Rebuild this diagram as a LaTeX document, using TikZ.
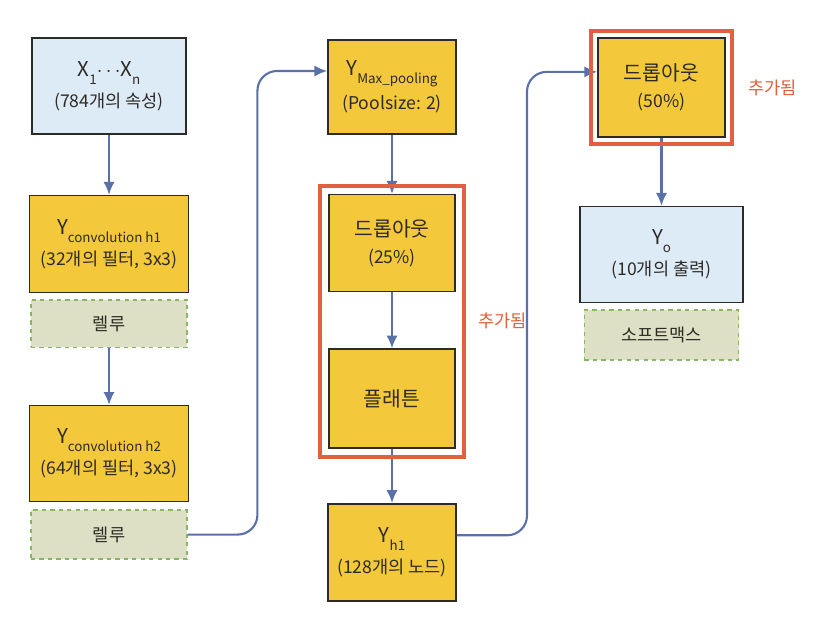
\documentclass[tikz,border=0pt]{standalone}
\usepackage{fontspec}
\setmainfont{Noto Sans CJK KR}
\usetikzlibrary{arrows.meta,positioning,calc,fit}
\definecolor{cngold}{HTML}{F3C83A}
\definecolor{cnblue}{HTML}{DDEBF7}
\definecolor{cnsage}{HTML}{DDE0C4}
\definecolor{cngreen}{HTML}{86B864}
\definecolor{cnred}{HTML}{E0603F}
\definecolor{cnarrow}{HTML}{5A70A8}
\definecolor{cnink}{HTML}{2E2A25}
\newcommand{\lowsub}[1]{\raisebox{-0.7ex}{\fontsize{9.5}{11}\selectfont #1}}
\newcommand{\maintxt}{\fontsize{14.5}{17}\selectfont}
\newcommand{\subtxt}{\fontsize{12.5}{15}\selectfont}

\begin{document}
\begin{tikzpicture}[x=0.025cm,y=-0.025cm,
    box/.style={draw=cnink,line width=1.1pt,inner sep=0pt,align=center,text=cnink,font=\maintxt},
    layer/.style={box,fill=cngold},
    io/.style={box,fill=cnblue},
    act/.style={draw=cngreen,fill=cnsage,dashed,line width=0.9pt,inner sep=0pt,align=center,font=\subtxt,text=cnink},
    added/.style={draw=cnred,line width=2.6pt,inner sep=0.2cm},
    note/.style={text=cnred,font=\subtxt},
    arr/.style={-{Latex[length=3.2mm,width=2.8mm]},line width=1.5pt,draw=cnarrow}]
  \useasboundingbox (0,0) rectangle (813,635);

  % first column
  \node[io,minimum width=3.85cm,minimum height=2.4cm] (xin) at (109,86)
    {X\lowsub{1}$\cdots$X\lowsub{n}\\[5pt]{\subtxt (784개의 속성)}};
  \node[layer,minimum width=3.975cm,minimum height=2.425cm,below=1.5cm of xin] (conv1)
    {Y\lowsub{convolution h1}\\[5pt]{\subtxt (32개의 필터, 3x3)}};
  \node[act,minimum width=3.9cm,minimum height=1.18cm,below=0.15cm of conv1] (relu1) {렐루};
  \node[layer,minimum width=3.975cm,minimum height=2.4cm,below=1.425cm of relu1] (conv2)
    {Y\lowsub{convolution h2}\\[5pt]{\subtxt (64개의 필터, 3x3)}};
  \node[act,minimum width=3.9cm,minimum height=1.225cm,below=0.175cm of conv2] (relu2) {렐루};

  % second column
  \node[layer,minimum width=3.2cm,minimum height=2.35cm] (maxpool) at (392,87)
    {Y\lowsub{Max\_pooling}\\[5pt]{\subtxt (Poolsize: 2)}};
  \node[layer,minimum width=3.15cm,minimum height=2.425cm,below=1.475cm of maxpool] (drop25)
    {드롭아웃\\[2pt]{\subtxt (25\%)}};
  \node[layer,minimum width=3.15cm,minimum height=2.475cm,below=1.4cm of drop25] (flat) {플래튼};
  \node[layer,minimum width=3.2cm,minimum height=2.425cm,below=1.35cm of flat] (yh1)
    {Y\lowsub{h1}\\[5pt]{\subtxt (128개의 노드)}};

  % third column
  \node[layer,minimum width=3.175cm,minimum height=2.475cm] (drop50) at (661.5,87.5)
    {드롭아웃\\[2pt]{\subtxt (50\%)}};
  \node[io,minimum width=4.075cm,minimum height=2.4cm,below=1.7cm of drop50] (yo)
    {Y\lowsub{o}\\[5pt]{\subtxt (10개의 출력)}};
  \node[act,minimum width=3.85cm,minimum height=1.25cm,below=0.15cm of yo] (softmax) {소프트맥스};

  % connectors
  \coordinate (relu2out) at (relu2.east);
  \coordinate (yh1out) at ([yshift=0.425cm]yh1.east);
  \draw[arr] (xin) -- (conv1);
  \draw[arr] (relu1) -- (conv2);
  \draw[arr,rounded corners=14pt] (relu2out)
    -- ($(relu2out)!0.5!(maxpool.west |- relu2out)$) |- ([yshift=0.4cm]maxpool.west);
  \draw[arr] (maxpool) -- (drop25);
  \draw[arr] (drop25) -- (flat);
  \draw[arr] (flat) -- (yh1);
  \draw[arr,rounded corners=14pt] (yh1out)
    -- ($(yh1out)!0.5!(drop50.west |- yh1out)$) |- ([yshift=0.39cm]drop50.west);
  \draw[arr] (drop50) -- (yo);

  % added layers
  \node[added,fit=(drop25)(flat)] (frame1) {};
  \node[note,right=0.2cm of frame1] (note1) {추가됨};
  \node[added,inner sep=0.15cm,fit=(drop50)] (frame2) {};
  \node[note,right=0.25cm of frame2] (note2) {추가됨};
\end{tikzpicture}
\end{document}
